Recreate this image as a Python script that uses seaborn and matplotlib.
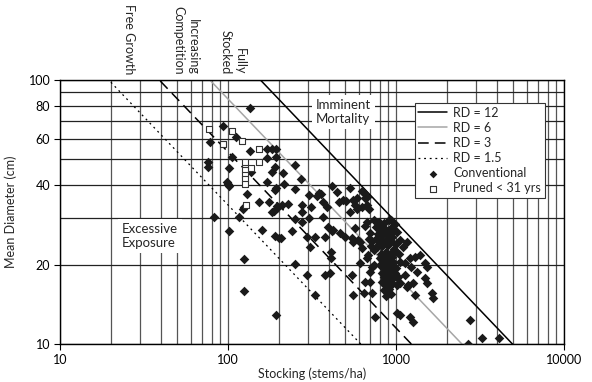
import matplotlib
matplotlib.use("Agg")
import matplotlib.pyplot as plt
import matplotlib.ticker as ticker
import matplotlib.transforms as mtransforms
import numpy as np
import seaborn as sns

# relative density lines: N = RD * rd_coef * D^-1.5
rd_values = [12, 6, 3, 1.5]
rd_labels = ['RD = 12', 'RD = 6', 'RD = 3', 'RD = 1.5']
rd_diam = [10, 100]
rd_coef = 13000

# stems/ha, mean diameter (cm)
conv_stems = [135, 93, 78, 112, 135, 106, 76, 76, 101, 98, 100, 101, 129, 153, 175, 196, 83, 117, 101, 125,
              124, 194, 249, 171, 183, 193, 171, 193, 191, 182, 213, 138, 170, 194, 191, 216, 251, 272, 251, 228,
              209, 195, 188, 183, 125, 123, 251, 274, 275, 242, 191, 200, 206, 160, 276, 295, 308, 312, 302, 339,
              360, 347, 368, 416, 446, 457, 485, 505, 532, 555, 586, 570, 628, 641, 654, 672, 672, 628, 686, 586,
              532, 386, 302, 368, 394, 378, 330, 416, 422, 464, 410, 410, 497, 547, 555, 592, 611, 570, 672, 628,
              611, 547, 405, 378, 295, 330, 555, 641, 720, 654, 700, 700, 720, 672, 680, 750, 1014, 1057, 1211, 1262,
              771, 803, 826, 787, 843, 903, 740, 947, 826, 884, 826, 884, 947, 1057, 1163, 1102, 1211, 1297, 1390, 1133,
              1236, 1334, 1489, 1531, 1489, 1531, 1262, 1186, 1163, 1297, 1638, 1661, 1057, 1014, 1133, 2754, 2680, 3250, 4100,
              800, 820, 850, 880, 910, 940, 960, 790, 830, 860, 900, 930, 970, 1000,
              810, 840, 870, 890, 920, 950, 985, 800, 835, 860, 880, 905, 930, 960, 1000,
              820, 850, 875, 900, 925, 955, 990, 830, 860, 890, 915, 945,
              850, 880, 905, 930, 870, 780, 760, 940, 980, 1020, 1040, 1060, 1030, 1010,
              654, 700, 720, 740, 690, 760, 735, 710]
conv_diam = [78.4, 67.0, 58.2, 60.8, 53.8, 51.2, 48.9, 46.8, 46.4, 41.0, 40.4, 39.6, 36.9, 34.4, 34.4, 33.3, 30.3, 30.3, 26.7, 21.0,
             15.9, 12.9, 20.1, 54.8, 54.8, 54.8, 50.7, 51.2, 46.8, 44.9, 44.3, 44.9, 41.2, 39.0, 38.3, 40.4, 47.6, 42.2, 38.5, 33.8,
             33.6, 32.7, 31.9, 31.6, 33.1, 32.5, 29.7, 31.6, 29.0, 26.8, 25.7, 25.3, 25.1, 27.0, 33.6, 25.4, 23.3, 33.0, 36.7, 36.4,
             37.0, 37.3, 34.5, 39.6, 37.6, 34.5, 35.1, 34.8, 39.0, 35.1, 35.7, 33.6, 37.9, 37.3, 35.7, 33.6, 36.0, 33.0, 32.5, 32.5,
             31.6, 33.0, 29.9, 30.3, 27.8, 25.4, 25.4, 26.8, 27.0, 26.4, 22.3, 21.2, 25.4, 25.2, 24.3, 24.8, 24.3, 27.6, 29.0, 23.1,
             20.3, 18.2, 18.5, 18.2, 18.2, 15.3, 15.3, 15.6, 15.6, 17.2, 17.2, 18.7, 19.6, 21.2, 21.7, 12.7, 13.1, 12.9, 12.7, 12.1,
             23.3, 21.2, 20.8, 29.0, 28.7, 29.5, 29.5, 27.8, 25.9, 25.9, 24.8, 24.8, 25.4, 24.8, 24.3, 23.3, 21.2, 21.4, 21.7, 20.3,
             19.6, 18.7, 20.3, 19.6, 17.8, 17.0, 17.0, 16.7, 16.4, 15.3, 15.6, 14.9, 17.0, 17.9, 18.2, 12.3, 10.0, 10.5, 10.5,
             28.0, 27.0, 27.5, 26.5, 27.0, 26.0, 27.3, 24.0, 23.5, 24.2, 23.8, 24.5, 23.0, 24.0,
             22.0, 21.5, 22.3, 21.0, 22.0, 21.4, 22.5, 20.0, 19.5, 20.4, 19.8, 20.2, 19.6, 20.5, 19.4,
             18.5, 18.0, 18.7, 18.2, 18.9, 17.8, 18.5, 17.2, 16.8, 17.4, 16.6, 17.0,
             16.0, 15.7, 16.2, 15.5, 15.2, 26.0, 25.0, 29.5, 28.5, 26.5, 22.0, 20.5, 18.0, 16.8,
             28.0, 26.4, 24.6, 22.8, 25.0, 27.8, 20.0, 23.5]
pruned_stems = [77, 93, 106, 121, 153, 126, 153, 137, 126, 126, 126, 126, 128]
pruned_diam = [65.2, 57.3, 64.1, 58.7, 54.8, 48.9, 48.9, 46.4, 45.6, 43.7, 42.2, 40.4, 33.6]

x_ticks = [10, 100, 1000, 10000]
x_tick_labels = ['10', '100', '1000', '10000']
y_ticks = [10, 20, 40, 60, 80, 100]
y_tick_labels = ['10', '20', '40', '60', '80', '100']

zone_labels = ['Free Growth', 'Increasing\nCompetition', 'Fully\nStocked']
zone_x = [25.8, 55.8, 107]

sns.set_style('white')
plt.rcParams['font.family'] = ['Lato', 'DejaVu Sans']
plt.rcParams['font.size'] = 9

fig = plt.figure(figsize=(5.92, 3.82), dpi=100)
ax = fig.add_axes([60 / 592, 38 / 382, 504 / 592, 264 / 382])

line_kw = [dict(color='black', linewidth=1.1),
           dict(color='#a6a6a6', linewidth=1.1),
           dict(color='black', linewidth=1.1),
           dict(color='black', linewidth=0.9)]
line_dashes = [None, None, (7, 4), (1.5, 3)]
for rd, lab, kw, dsh in zip(rd_values, rd_labels, line_kw, line_dashes):
    n = [rd * rd_coef * d ** -1.5 for d in rd_diam]
    sns.lineplot(x=n, y=rd_diam, ax=ax, label=lab, sort=False, estimator=None, zorder=2, **kw)
    if dsh is not None:
        ax.lines[-1].set_dashes(dsh)

sns.scatterplot(x=conv_stems, y=conv_diam, ax=ax, marker='D', color='#1a1a1a', s=24,
                linewidth=0, label='Conventional', zorder=3)
sns.scatterplot(x=pruned_stems, y=pruned_diam, ax=ax, marker='s', facecolor='white', edgecolor='#333333',
                s=22, linewidth=0.8, label='Pruned < 31 yrs', zorder=4)

ax.set_xscale('log')
ax.set_yscale('log')
ax.set_xlim(10, 10000)
ax.set_ylim(10, 100)
ax.xaxis.set_major_locator(ticker.FixedLocator(x_ticks))
ax.xaxis.set_major_formatter(ticker.FixedFormatter(x_tick_labels))
ax.xaxis.set_minor_locator(ticker.LogLocator(base=10, subs=np.arange(2, 10)))
ax.xaxis.set_minor_formatter(ticker.NullFormatter())
ax.yaxis.set_major_locator(ticker.FixedLocator(y_ticks))
ax.yaxis.set_major_formatter(ticker.FixedFormatter(y_tick_labels))
ax.yaxis.set_minor_locator(ticker.LogLocator(base=10, subs=np.arange(2, 10)))
ax.yaxis.set_minor_formatter(ticker.NullFormatter())

ax.set_axisbelow(True)
ax.grid(which='both', axis='x', color='#555555', linewidth=0.9)
ax.grid(which='both', axis='y', color='#222222', linewidth=0.9)
ax.tick_params(which='major', bottom=True, left=True, length=4, width=0.8, direction='out',
               colors='black', labelsize=9, pad=3)
ax.tick_params(which='minor', length=0)
for sp in ax.spines.values():
    sp.set_color('black')
    sp.set_linewidth(1.0)

ax.set_xlabel('Stocking (stems/ha)', fontsize=9, labelpad=1)
ax.set_ylabel('Mean Diameter (cm)', fontsize=9, labelpad=8)

box = dict(boxstyle='square,pad=0.3', facecolor='white', edgecolor='none')
ax.text(334, 75.7, 'Imminent\nMortality', ha='left', va='center', fontsize=9.5, bbox=box, zorder=5)
ax.text(23.4, 25.6, 'Excessive\nExposure', ha='left', va='center', fontsize=9.5, bbox=box, zorder=5)

trans = mtransforms.blended_transform_factory(ax.transData, ax.transAxes)
for x, txt in zip(zone_x, zone_labels):
    ax.text(x, 1.02, txt, rotation=270, ha='center', va='bottom', multialignment='right',
            fontsize=9, transform=trans, clip_on=False)

handles, labels = ax.get_legend_handles_labels()
leg = ax.legend(handles, labels, loc='upper right', bbox_to_anchor=(0.962, 0.913), frameon=True,
                fancybox=False, edgecolor='#333333', framealpha=1, fontsize=9, handlelength=2.3,
                labelspacing=0.25, borderpad=0.3, handletextpad=0.5, borderaxespad=0, markerscale=0.8)
leg.get_frame().set_linewidth(0.8)
leg.set_zorder(6)

fig.savefig('out.png', dpi=100)
